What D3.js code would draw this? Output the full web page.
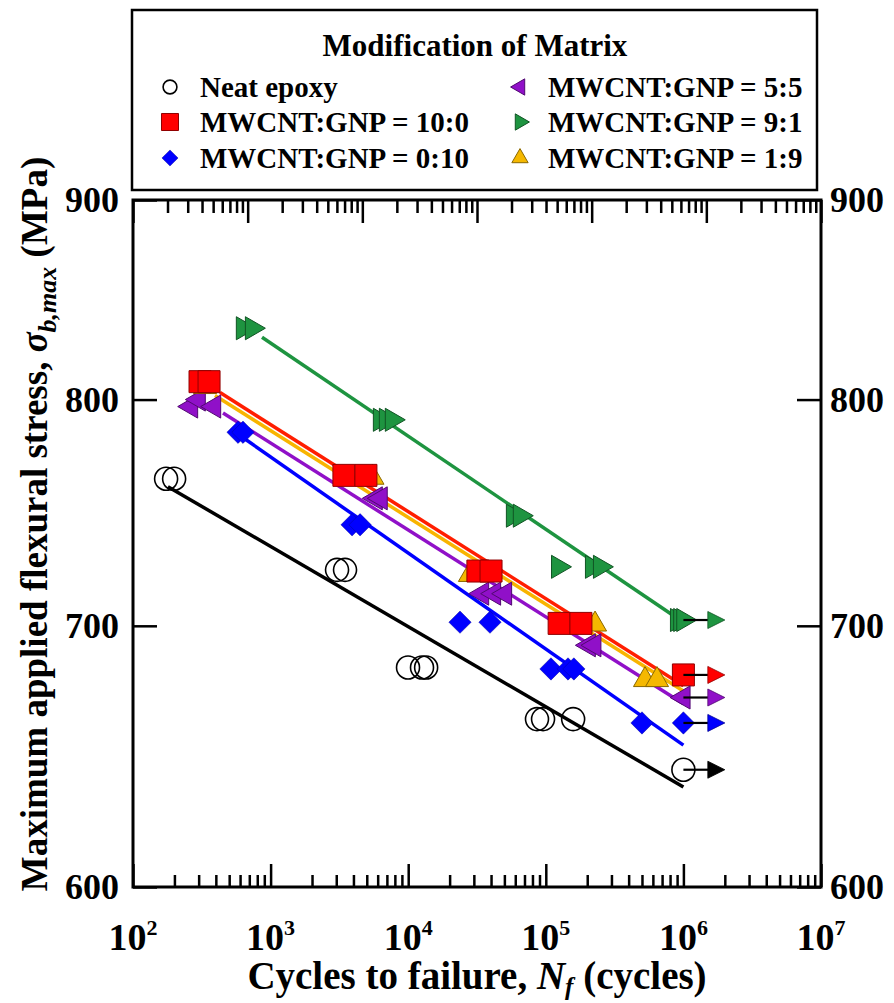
<!DOCTYPE html>
<html>
<head>
<meta charset="utf-8">
<script src="https://cdn.jsdelivr.net/npm/d3@7"></script>
<style>
body { margin: 0; background: #fff; }
text { font-family: "Liberation Serif", "Times New Roman", serif; font-weight: bold; fill: #000; }
</style>
</head>
<body>
<svg id="chart" width="894" height="1003"></svg>
<script>
// series labels and colours
const seriesNames = ['Neat epoxy', 'MWCNT:GNP = 10:0', 'MWCNT:GNP = 0:10', 'MWCNT:GNP = 5:5', 'MWCNT:GNP = 9:1', 'MWCNT:GNP = 1:9'];
const seriesFill = ['none', '#ff0000', '#0000ff', '#9010c8', '#1e9440', '#f5b800'];
const lineColors = ['#000000', '#ff1e00', '#0000ff', '#9010c8', '#1e9440', '#f8b400'];
const seriesShape = ['circle', 'square', 'diamond', 'left', 'right', 'up'];

// cycles to failure (N) and max stress (MPa)
const neatN = [174, 199, 3040, 3475, 9970, 12600, 13500, 86300, 95500, 158000];
const neatS = [763.5, 763.5, 723.5, 723.5, 683, 683, 683, 662.5, 662.5, 662.5];
const cnt10N = [307, 357, 3410, 4930, 32100, 40000, 125000, 180000];
const cnt10S = [808.5, 808.5, 765, 765, 723, 723, 701, 701];
const gnp10N = [580, 630, 3910, 4470, 23800, 39300, 109000, 145000, 160000, 500000];
const gnp10S = [784.7, 784.7, 743, 743, 701.5, 701.5, 682.4, 682.4, 682.4, 661];
const mix55N = [264, 300, 388, 5800, 6300, 34400, 42000, 50500, 205000, 225000];
const mix55S = [796.7, 800, 796.7, 754.7, 754.7, 713.4, 713.4, 713.4, 692, 692];
const mix91N = [630, 733, 6240, 6900, 7620, 57800, 64900, 123000, 217000, 248000, 900000, 950000];
const mix91S = [834.4, 834.4, 790.5, 790.5, 790.5, 747, 747, 724.8, 724.8, 724.8, 702.4, 702.4];
const mix19N = [334, 5500, 28100, 228000, 526000, 643000];
const mix19S = [806, 764, 721.4, 700.6, 678, 678];

// run-outs (no failure at 10^6), arrows drawn to arrowEndN
const runoutIdx = [0, 1, 2, 3, 4];
const runoutN = [1e6, 1e6, 1e6, 1e6, 1e6];
const runoutS = [643, 680, 661, 671, 702.4];
const arrowEndN = 2e6;

// fitted S-N lines (start / end points)
const fitStartN = [179.5, 429, 599, 451, 866, 394];
const fitStartS = [759.9, 803.3, 783.2, 793.7, 830, 801.9];
const fitEndN = [1e6, 1e6, 1e6, 1e6, 944000, 1e6];
const fitEndS = [636.5, 675.7, 652.4, 668.5, 702.4, 673.6];

const xExponents = [2, 3, 4, 5, 6, 7];
const yTickValues = [600, 700, 800, 900];

const allN = [neatN, cnt10N, gnp10N, mix55N, mix91N, mix19N];
const allS = [neatS, cnt10S, gnp10S, mix55S, mix91S, mix19S];
const series = seriesNames.map((name, i) => ({
    name, i,
    points: allN[i].map((n, j) => ({n, s: allS[i][j]})),
    fit: [{n: fitStartN[i], s: fitStartS[i]}, {n: fitEndN[i], s: fitEndS[i]}]
}));

const margin = {top: 200, right: 73, bottom: 116, left: 133};
const width = 894 - margin.left - margin.right;
const height = 1003 - margin.top - margin.bottom;

const x = d3.scaleLog().domain([1e2, 1e7]).range([0, width]);
// the top axis of the original carries six decades across the same width
const xTop = d3.scaleLog().domain([1e2, 1e8]).range([0, width]);
const y = d3.scaleLog().domain([600, 900]).range([height, 0]);

const svg = d3.select('#chart');
const g = svg.append('g').attr('transform', `translate(${margin.left},${margin.top})`);

function shapePath(kind, big) {
    const sz = big
        ? {circle: 415, square: 484, diamond: 250, tri: 230}
        : {circle: 150, square: 290, diamond: 130, tri: 115};
    if (kind === 'circle') return d3.symbol(d3.symbolCircle, sz.circle)();
    if (kind === 'square') return d3.symbol(d3.symbolSquare, sz.square)();
    if (kind === 'diamond') return d3.symbol(d3.symbolSquare, sz.diamond)();
    return d3.symbol(d3.symbolTriangle, sz.tri)();
}
const shapeRotate = {circle: 0, square: 0, diamond: 45, left: -90, right: 90, up: 0};

function styleMarker(sel, i) {
    const kind = seriesShape[i];
    sel.attr('fill', seriesFill[i])
        .attr('stroke', i === 0 ? '#000' : d3.color(seriesFill[i]).darker(1.6))
        .attr('stroke-width', i === 0 ? 1.6 : (kind === 'diamond' ? 0.4 : 1));
}

// ticks
const majors = xExponents.map(e => 10 ** e);
const minors = [];
d3.range(2, 7).forEach(e => d3.range(2, 10).forEach(k => minors.push(k * 10 ** e)));
const topMajors = d3.range(2, 9).map(e => 10 ** e);
const topMinors = [];
d3.range(2, 8).forEach(e => d3.range(2, 10).forEach(k => topMinors.push(k * 10 ** e)));

function tickAxis(axis, values, size, tr) {
    const a = g.append('g').attr('transform', tr)
        .call(axis.tickValues(values).tickSize(size).tickFormat(''));
    a.select('.domain').remove();
    a.selectAll('line').attr('stroke', '#000').attr('stroke-width', 2.5);
    return a;
}
tickAxis(d3.axisBottom(x), minors, -12, `translate(0,${height})`);
tickAxis(d3.axisBottom(x), majors, -23, `translate(0,${height})`);
tickAxis(d3.axisTop(xTop), topMinors, -13, 'translate(0,0)');
tickAxis(d3.axisTop(xTop), topMajors, -23, 'translate(0,0)');

// x tick labels 10^n
g.append('g').selectAll('text')
    .data(xExponents)
    .join('text')
    .attr('x', d => x(10 ** d))
    .attr('y', height + 63)
    .attr('text-anchor', 'middle')
    .style('font-size', '38px')
    .call(t => t.append('tspan').text('10'))
    .call(t => t.append('tspan').attr('dy', -15).style('font-size', '22px').text(d => d));

// y axes on both sides
const yl = g.append('g')
    .call(d3.axisLeft(y).tickValues(yTickValues).tickSize(-24).tickPadding(14).tickFormat(d3.format('d')));
const yr = g.append('g').attr('transform', `translate(${width},0)`)
    .call(d3.axisRight(y).tickValues(yTickValues).tickSize(-24).tickPadding(9).tickFormat(d3.format('d')));
[yl, yr].forEach(a => {
    a.select('.domain').remove();
    a.selectAll('line').attr('stroke', '#000').attr('stroke-width', 2.5);
    a.selectAll('text').attr('fill', '#000').style('font-size', '36px')
        .style('font-family', '"Liberation Serif", serif').style('font-weight', 'bold');
});

g.append('rect')
    .attr('width', width).attr('height', height)
    .attr('fill', 'none').attr('stroke', '#000').attr('stroke-width', 3);

// fitted lines
const line = d3.line().x(d => x(d.n)).y(d => y(d.s));
const lineOrder = [0, 2, 3, 4, 5, 1];
g.append('g').selectAll('path')
    .data(lineOrder.map(i => series[i]))
    .join('path')
    .attr('d', d => line(d.fit))
    .attr('fill', 'none')
    .attr('stroke', d => lineColors[d.i])
    .attr('stroke-width', 3.5);

// markers
const markerOrder = [0, 2, 3, 5, 1, 4];
markerOrder.forEach(i => {
    const s = series[i];
    g.append('g').selectAll('path')
        .data(s.points)
        .join('path')
        .attr('d', shapePath(seriesShape[i], true))
        .attr('transform', d => `translate(${x(d.n)},${y(d.s)}) rotate(${shapeRotate[seriesShape[i]]})`)
        .call(sel => styleMarker(sel, i));
});

// run-out markers and arrows
runoutIdx.forEach((i, k) => {
    const px = x(runoutN[k]), py = y(runoutS[k]);
    g.append('path')
        .attr('d', shapePath(seriesShape[i], true))
        .attr('transform', `translate(${px},${py}) rotate(${shapeRotate[seriesShape[i]]})`)
        .call(sel => styleMarker(sel, i));
});
runoutIdx.forEach((i, k) => {
    const px = x(runoutN[k]), py = y(runoutS[k]), tip = x(arrowEndN);
    g.append('line')
        .attr('x1', px).attr('x2', tip - 14).attr('y1', py).attr('y2', py)
        .attr('stroke', '#000').attr('stroke-width', 2.2);
    g.append('path')
        .attr('d', `M${tip},${py}L${tip - 17},${py - 8.5}L${tip - 17},${py + 8.5}Z`)
        .attr('fill', i === 0 ? '#000' : seriesFill[i])
        .attr('stroke', i === 0 ? '#000' : d3.color(seriesFill[i]).darker(1.6))
        .attr('stroke-width', 0.8);
});

// axis titles
svg.append('text')
    .attr('x', margin.left + width / 2)
    .attr('y', 989)
    .attr('text-anchor', 'middle')
    .style('font-size', '39px')
    .call(t => t.append('tspan').text('Cycles to failure, '))
    .call(t => t.append('tspan').style('font-style', 'italic').text('N'))
    .call(t => t.append('tspan').attr('dy', 6).style('font-size', '25px').style('font-style', 'italic').text('f'))
    .call(t => t.append('tspan').attr('dy', -6).text(' (cycles)'));

svg.append('text')
    .attr('transform', 'translate(47,524) rotate(-90)')
    .attr('text-anchor', 'middle')
    .style('font-size', '37px')
    .call(t => t.append('tspan').text('Maximum applied flexural stress, '))
    .call(t => t.append('tspan').style('font-style', 'italic').text('σ'))
    .call(t => t.append('tspan').attr('dy', 9).style('font-size', '26px').style('font-style', 'italic').text('b,max'))
    .call(t => t.append('tspan').attr('dy', -9).text(' (MPa)'));

// legend
const legend = svg.append('g');
legend.append('rect')
    .attr('x', 132).attr('y', 10).attr('width', 685).attr('height', 180)
    .attr('fill', '#fff').attr('stroke', '#000').attr('stroke-width', 2.5);
legend.append('text')
    .attr('x', 475).attr('y', 56)
    .attr('text-anchor', 'middle')
    .style('font-size', '31px')
    .text('Modification of Matrix');
const rowY = [87, 122, 158];
const colSym = [170, 520];
const colText = [200, 548];
series.forEach((s, i) => {
    const col = i < 3 ? 0 : 1, row = i % 3;
    legend.append('path')
        .attr('d', shapePath(seriesShape[i], false))
        .attr('transform', `translate(${colSym[col]},${rowY[row]}) rotate(${shapeRotate[seriesShape[i]]})`)
        .call(sel => styleMarker(sel, i));
    legend.append('text')
        .attr('x', colText[col]).attr('y', rowY[row] + 10)
        .style('font-size', '29px')
        .text(s.name);
});
</script>
</body>
</html>
